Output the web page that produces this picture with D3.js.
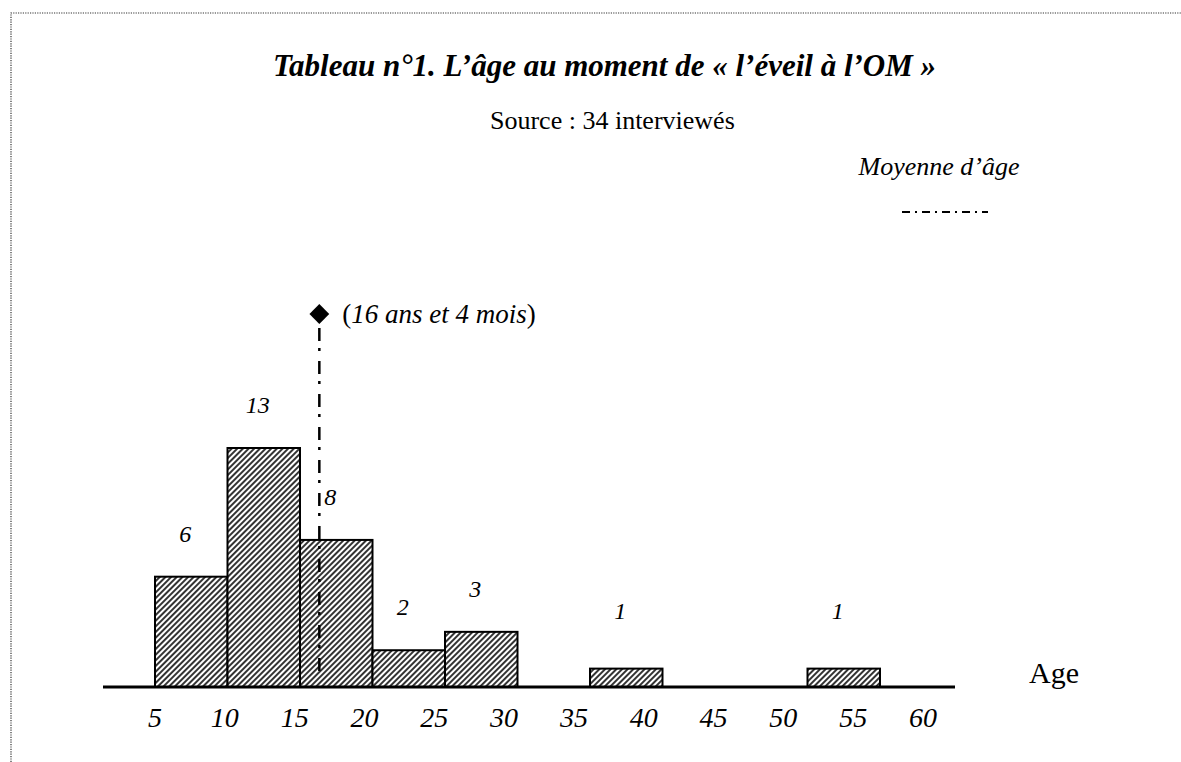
<!DOCTYPE html>
<html>
<head>
<meta charset="utf-8">
<script src="https://cdn.jsdelivr.net/npm/d3@7"></script>
<style>
  html, body { margin: 0; padding: 0; background: #fff; }
  svg { display: block; font-family: "Liberation Serif", "Times New Roman", serif; }
</style>
</head>
<body>
<svg id="chart"></svg>
<script>
document.addEventListener("DOMContentLoaded", function() {
  const width = 1181;
  const height = 762;

  // histogram bins (age in years) and number of interviewees
  const binStart = [5, 10, 15, 20, 25, 35, 50];
  const binEnd = [10, 15, 20, 25, 30, 40, 55];
  const counts = [6, 13, 8, 2, 3, 1, 1];
  const tickLabels = ["5", "10", "15", "20", "25", "30", "35", "40", "45", "50", "55", "60"];
  const meanAge = 16 + 4 / 12; // 16 ans et 4 mois

  const baseY = 687;

  const x = d3.scaleLinear().domain([5, 55]).range([155, 880]);
  const y = d3.scaleLinear().domain([0, 13]).range([baseY, 448]);
  // tick labels sit on even tab stops, not on the bar scale
  const xTick = d3.scalePoint().domain(tickLabels).range([155, 923]);

  const svg = d3.select("#chart")
    .attr("width", width)
    .attr("height", height);

  const defs = svg.append("defs");
  const hatch = defs.append("pattern")
    .attr("id", "hatch")
    .attr("patternUnits", "userSpaceOnUse")
    .attr("width", 4)
    .attr("height", 4)
    .attr("patternTransform", "rotate(45)");
  hatch.append("rect").attr("width", 4).attr("height", 4).attr("fill", "#fff");
  hatch.append("line")
    .attr("x1", 1).attr("y1", 0)
    .attr("x2", 1).attr("y2", 4)
    .attr("stroke", "#000")
    .attr("stroke-width", 1.6);

  // dotted frame (only top and left edges show)
  svg.append("path")
    .attr("d", `M11,${height} L11,13 L${width},13`)
    .attr("fill", "none")
    .attr("stroke", "#333")
    .attr("stroke-width", 1.2)
    .attr("stroke-dasharray", "1.2,1.2");

  // titles
  svg.append("text")
    .attr("x", 273).attr("y", 76)
    .style("font-size", "31px")
    .style("font-weight", "bold")
    .style("font-style", "italic")
    .text("Tableau n°1. L’âge au moment de « l’éveil à l’OM »");

  svg.append("text")
    .attr("x", 490).attr("y", 129)
    .style("font-size", "26px")
    .text("Source : 34 interviewés");

  // legend
  svg.append("text")
    .attr("x", 939).attr("y", 175)
    .attr("text-anchor", "middle")
    .style("font-size", "26px")
    .style("font-style", "italic")
    .text("Moyenne d’âge");
  svg.append("line")
    .attr("x1", 902).attr("x2", 988)
    .attr("y1", 212).attr("y2", 212)
    .attr("stroke", "#000")
    .attr("stroke-width", 2)
    .attr("stroke-dasharray", "8,5,2,5");

  // bars
  const bins = counts.map((c, i) => ({ start: binStart[i], end: binEnd[i], count: c }));

  svg.append("g").selectAll("rect")
    .data(bins)
    .join("rect")
    .attr("x", d => x(d.start))
    .attr("y", d => y(d.count))
    .attr("width", d => x(d.end) - x(d.start))
    .attr("height", d => y(0) - y(d.count))
    .attr("fill", "url(#hatch)")
    .attr("stroke", "#000")
    .attr("stroke-width", 2);

  // count labels
  svg.append("g").selectAll("text")
    .data(bins)
    .join("text")
    .attr("x", d => (x(d.start) + x(d.end)) / 2 - 6)
    .attr("y", d => Math.min(y(d.count) - 35, baseY - 68))
    .attr("text-anchor", "middle")
    .style("font-size", "24px")
    .style("font-style", "italic")
    .text(d => d.count);

  // baseline axis
  svg.append("line")
    .attr("x1", 103).attr("x2", 955)
    .attr("y1", baseY).attr("y2", baseY)
    .attr("stroke", "#000")
    .attr("stroke-width", 3);

  svg.append("g").selectAll("text")
    .data(tickLabels)
    .join("text")
    .attr("x", d => xTick(d))
    .attr("y", baseY + 40)
    .attr("text-anchor", "middle")
    .style("font-size", "28px")
    .style("font-style", "italic")
    .text(d => d);

  svg.append("text")
    .attr("x", 1029).attr("y", 683)
    .style("font-size", "30px")
    .text("Age");

  // mean line with diamond marker
  const mx = x(meanAge);
  const topY = 314;
  svg.append("line")
    .attr("x1", mx).attr("x2", mx)
    .attr("y1", topY + 14).attr("y2", baseY - 14)
    .attr("stroke", "#000")
    .attr("stroke-width", 2.5)
    .attr("stroke-dasharray", "13,7,3,10");

  svg.append("path")
    .attr("d", d3.symbol().type(d3.symbolDiamond2).size(250)())
    .attr("transform", `translate(${mx},${topY})`)
    .attr("fill", "#000");

  const note = svg.append("text")
    .attr("x", mx + 23).attr("y", topY + 9)
    .style("font-size", "27px");
  note.append("tspan").text("(");
  note.append("tspan").style("font-style", "italic").text("16 ans et 4 mois");
  note.append("tspan").text(")");
});
</script>
</body>
</html>
